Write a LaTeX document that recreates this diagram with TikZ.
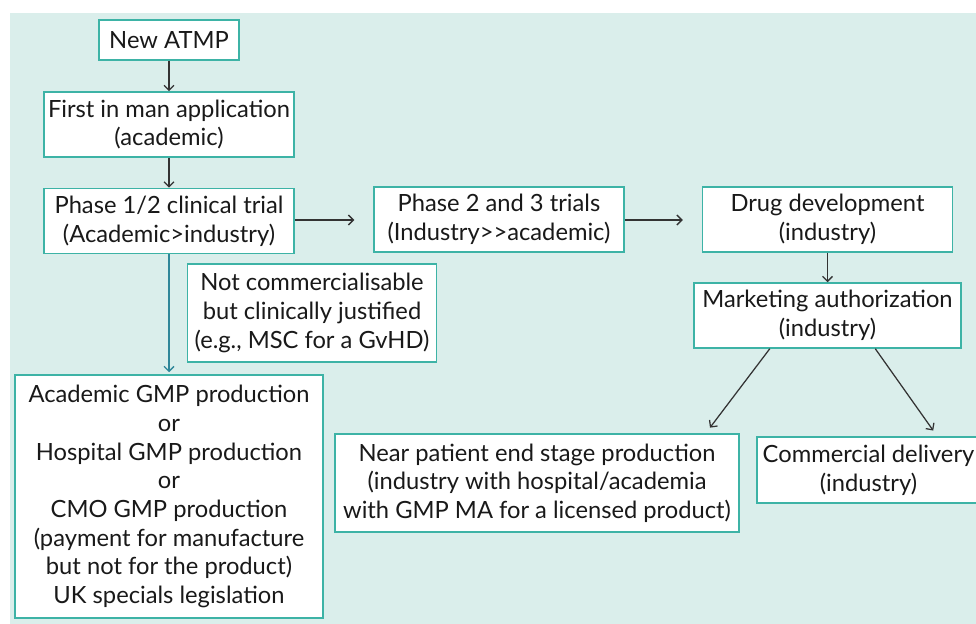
\documentclass[tikz,border=0pt]{standalone}
\usepackage{fontspec}
\setmainfont{Lato}
\usetikzlibrary{calc,arrows.meta}
\definecolor{bgteal}{HTML}{DAEEEB}
\definecolor{boxteal}{HTML}{3DB3A6}
\definecolor{arrowteal}{HTML}{2F8799}
\tikzset{
	flowbox/.style={draw=boxteal, line width=0.3mm, fill=white, align=center, inner sep=0pt, text=black!90, font=\fontsize{13.5}{16.3}\selectfont},
	flowarrow/.style={line width=0.25mm, color=black!80, -{Straight Barb[length=1mm,width=2mm]}}
}
\begin{document}
\begin{tikzpicture}[x=0.02cm, y=-0.02cm]
		%%%%% START %%%%%
		
		\useasboundingbox (0, 0) rectangle (976, 624);
		\fill[bgteal] (10, 13) rectangle (976, 624);
		
		\node[flowbox, minimum width=140*0.02cm, minimum height=40*0.02cm] (atmp) at (169, 40) {New ATMP};
		\node[flowbox, minimum width=250*0.02cm, minimum height=65*0.02cm] (fim) at (169, 124.5) {First in man application\\(academic)};
		\node[flowbox, minimum width=250*0.02cm, minimum height=65*0.02cm] (phaseA) at (169, 221) {Phase 1/2 clinical trial\\(Academic>industry)};
		\node[flowbox, minimum width=250*0.02cm, minimum height=65*0.02cm] (phaseB) at (499, 219.5) {Phase 2 and 3 trials\\(Industry>{}>academic)};
		\node[flowbox, minimum width=250*0.02cm, minimum height=65*0.02cm] (drug) at (827.5, 219.5) {Drug development\\(industry)};
		\node[flowbox, minimum width=267*0.02cm, minimum height=65*0.02cm] (market) at (827.5, 315.5) {Marketing authorization\\(industry)};
		
		\node[flowbox, minimum width=249*0.02cm, minimum height=98*0.02cm] (notcom) at (312, 313) {Not commercialisable\\but clinically justified\\(e.g., MSC for a GvHD)};
		\node[flowbox, minimum width=308*0.02cm, minimum height=243*0.02cm] (acad) at (169, 496.5) {Academic GMP production\\or\\Hospital GMP production\\or\\CMO GMP production\\(payment for manufacture\\but not for the product)\\UK specials legislation};
		
		\node[flowbox, minimum width=404*0.02cm, minimum height=98*0.02cm] (near) at (537, 483) {Near patient end stage production\\(industry with hospital/academia\\with GMP MA for a licensed product)};
		\node[flowbox, minimum width=223*0.02cm, minimum height=66*0.02cm] (comm) at (868.5, 470) {Commercial delivery\\(industry)};
		
		\draw[flowarrow] (atmp) -- (fim);
		\draw[flowarrow] (fim) -- (phaseA);
		\draw[flowarrow, shorten >=19*0.02cm] (phaseA.east |- 0, 220) -- (phaseB.west |- 0, 220);
		\draw[flowarrow, shorten >=19*0.02cm] (phaseB.east |- 0, 220) -- (drug.west |- 0, 220);
		\draw[flowarrow] (drug) -- (market);
		\draw[flowarrow, color=arrowteal, shorten >=2*0.02cm] (phaseA) -- (acad);
		
		\draw[flowarrow, shorten >=7*0.02cm] ($(market.south west)!0.285!(market.south east)$) -- ($(near.north east)+(-34, 0)$);
		\draw[flowarrow, shorten >=7*0.02cm] ($(market.south west)!0.678!(market.south east)$) -- ($(comm.north west)+(181, 0)$);
		
		%%%%% END %%%%%
	\end{tikzpicture}
\end{document}
